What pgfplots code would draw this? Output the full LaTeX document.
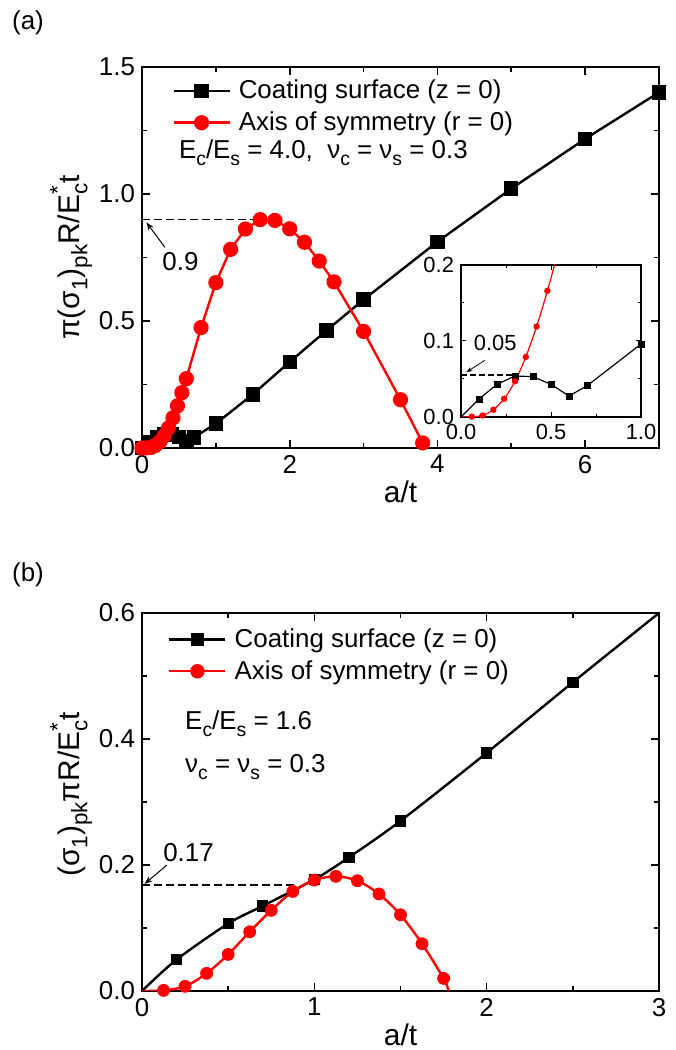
\documentclass[border=0pt]{standalone}
\usepackage{fontspec}
\setmainfont{Liberation Sans}
\usepackage{pgfplots}
\pgfplotsset{compat=1.18}
\usetikzlibrary{arrows.meta}

\definecolor{oRed}{RGB}{255,0,0}
\newcommand\tfont{\fontsize{13}{15}\selectfont}
\newcommand\sfont{\fontsize{11}{13}\selectfont}
\newcommand\lfont{\fontsize{15}{17}\selectfont}
% Origin-like low subscripts and raised superscripts
\newcommand\sub[1]{\raisebox{-0.5ex}{\scalebox{0.75}{#1}}}
\newcommand\sups[1]{\raisebox{0.9ex}{\scalebox{0.75}{#1}}}

\pgfplotsset{
  originframe/.style={
    scale only axis,
    axis line style={line width=1bp},
    tick align=inside,
    major tick length=4bp,
    minor tick length=2.5bp,
    every tick/.style={line width=0.8bp, black},
    tick label style={font=\tfont},
    /pgf/number format/assume math mode=true,
    label style={font=\lfont},
    xlabel style={at={(axis description cs:0.5,0)}, anchor=center, yshift=-22bp},
    ylabel style={at={(axis description cs:0,0.5)}, anchor=center, yshift=35.5bp},
    legend cell align=left,
    legend style={draw=none, fill=none, font=\tfont, inner sep=0pt,
      nodes={inner sep=1bp}, row sep=3bp},
    /tikz/every odd column/.append style={column sep=3bp},
    legend image code/.code={\draw[mark repeat=2,mark phase=2,##1]
      plot coordinates {(0bp,0bp)(14bp,0bp)(28bp,0bp)};},
  },
  zerofill/.style={/pgf/number format/.cd, fixed, fixed zerofill, precision=1},
}

\begin{document}
\begin{tikzpicture}
\useasboundingbox (0bp,0bp) rectangle (338bp,525bp);

\node[font=\tfont] at (14bp,513.5bp) {(a)};
\node[font=\tfont] at (14bp,237.5bp) {(b)};

% ---------- panel (a) ----------
\begin{axis}[originframe,
    at={(71bp,301bp)}, anchor=south west,
    width=258.5bp, height=190.5bp,
    xmin=0, xmax=7, ymin=0, ymax=1.5,
    xtick={0,2,4,6}, ytick={0,0.5,1,1.5},
    minor x tick num=1, minor y tick num=1,
    yticklabel style={zerofill},
    xlabel={a/t},
    ylabel={π(σ\sub{1})\sub{pk}R/E\rlap{\sups{*}}\sub{c}t},
    legend style={at={(rel axis cs:0.058,0.972)}, anchor=north west},
  ]
  \addplot[black, line width=1.2bp, mark=square*, mark size=3bp] coordinates {
    (0,0)(0.1,0.0236)(0.2,0.043)(0.3,0.054)(0.4,0.053)(0.5,0.043)(0.6,0.0276)
    (0.7,0.041)(1.0,0.096)(1.5,0.211)(2.0,0.339)(2.5,0.463)(3.0,0.584)
    (4.0,0.812)(5.0,1.021)(6.0,1.217)(7.0,1.40)};
  \addplot[oRed, line width=1.2bp, mark=*, mark size=3.2bp] coordinates {
    (0,0)(0.06,0.0005)(0.12,0.002)(0.18,0.0096)(0.24,0.024)(0.3,0.047)
    (0.36,0.079)(0.42,0.119)(0.48,0.166)(0.54,0.218)(0.6,0.273)(0.8,0.474)
    (1.0,0.651)(1.2,0.782)(1.4,0.862)(1.6,0.899)(1.8,0.896)(2.0,0.863)
    (2.2,0.81)(2.4,0.736)(2.6,0.654)(3.0,0.459)(3.5,0.19)(3.8,0.02)};
  \legend{Coating surface (z = 0), Axis of symmetry (r = 0)}
  \draw[dash pattern=on 4bp off 2bp, line width=0.8bp] (axis cs:0,0.9) -- (axis cs:1.62,0.9);
  \draw[-{Stealth[length=4bp]}, line width=0.5bp] (axis cs:0.31,0.79) -- (axis cs:0.06,0.888);
  \node[font=\tfont] at (axis cs:0.52,0.735) {0.9};
  \node[anchor=west, font=\tfont] at (rel axis cs:0.058,0.774)
    {E\sub{c}/E\sub{s} = 4.0,\ \ ν\sub{c} = ν\sub{s} = 0.3};
\end{axis}

% ---------- inset ----------
\begin{axis}[originframe,
    at={(230.5bp,316.5bp)}, anchor=south west,
    width=90bp, height=76bp,
    axis background/.style={fill=white},
    axis line style={line width=0.6bp},
    major tick length=2.5bp, minor tick length=1.5bp,
    every tick/.style={line width=0.5bp, black},
    tick label style={font=\sfont},
    xmin=0, xmax=1, ymin=0, ymax=0.2,
    xtick={0,0.5,1}, ytick={0,0.1,0.2},
    minor x tick num=1, minor y tick num=1,
    xticklabel style={zerofill}, yticklabel style={zerofill},
  ]
  \addplot[black, line width=0.6bp, forget plot] coordinates {
    (0,0)(0.1,0.0236)(0.2,0.043)(0.3,0.054)(0.4,0.053)(0.5,0.043)(0.6,0.0276)
    (0.7,0.041)(1.0,0.096)};
  \addplot[black, only marks, mark=square*, mark size=1.5bp] coordinates {
    (0.1,0.0236)(0.2,0.043)(0.3,0.054)(0.4,0.053)(0.5,0.043)(0.6,0.0276)
    (0.7,0.041)(1.0,0.096)};
  \addplot[oRed, line width=0.6bp, smooth] coordinates {
    (0,0)(0.06,0.0005)(0.12,0.002)(0.18,0.0096)(0.24,0.024)(0.3,0.047)
    (0.36,0.079)(0.42,0.119)(0.48,0.166)(0.54,0.218)(0.6,0.273)};
  \addplot[oRed, only marks, mark=*, mark size=1.4bp] coordinates {
    (0.06,0.0005)(0.12,0.002)(0.18,0.0096)(0.24,0.024)(0.3,0.047)
    (0.36,0.079)(0.42,0.119)(0.48,0.166)};
  \draw[dash pattern=on 3bp off 1.5bp, line width=0.7bp] (axis cs:0,0.055) -- (axis cs:0.3,0.055);
  \draw[-{Stealth[length=3bp]}, line width=0.4bp] (axis cs:0.133,0.0746) -- (axis cs:0.03,0.059);
  \node[font=\sfont] at (axis cs:0.19,0.097) {0.05};
\end{axis}

% ---------- panel (b) ----------
\begin{axis}[originframe,
    at={(71bp,29.5bp)}, anchor=south west,
    width=258.5bp, height=189bp,
    xmin=0, xmax=3, ymin=0, ymax=0.6,
    xtick={0,1,2,3}, ytick={0,0.2,0.4,0.6},
    minor x tick num=1, minor y tick num=1,
    yticklabel style={zerofill},
    xlabel={a/t},
    ylabel={(σ\sub{1})\sub{pk}πR/E\rlap{\sups{*}}\sub{c}t},
    ylabel style={at={(axis description cs:0,0.52)}},
    legend style={at={(rel axis cs:0.05,0.965)}, anchor=north west},
  ]
  \addplot[black, line width=1.2bp, smooth, forget plot] coordinates {
    (0,0)(0.2,0.0497)(0.5,0.107)(0.7,0.135)(1.0,0.177)(1.2,0.212)(1.5,0.27)
    (2.0,0.378)(2.5,0.49)(3.0,0.6)};
  \addplot[black, only marks, mark=square*, mark size=2.6bp, forget plot] coordinates {
    (0.2,0.0497)(0.5,0.107)(0.7,0.135)(1.0,0.177)(1.2,0.212)(1.5,0.27)
    (2.0,0.378)(2.5,0.49)};
  \addplot[oRed, line width=1.2bp, smooth, forget plot] coordinates {
    (0,0)(0.125,0.001)(0.25,0.0074)(0.375,0.028)(0.5,0.058)(0.625,0.094)
    (0.75,0.128)(0.875,0.158)(1.0,0.176)(1.125,0.182)(1.25,0.175)(1.375,0.154)
    (1.5,0.121)(1.625,0.075)(1.75,0.020)(1.78,0)};
  \addplot[oRed, only marks, mark=*, mark size=3bp, forget plot] coordinates {
    (0.125,0.001)(0.25,0.0074)(0.375,0.028)(0.5,0.058)(0.625,0.094)
    (0.75,0.128)(0.875,0.158)(1.0,0.176)(1.125,0.182)(1.25,0.175)(1.375,0.154)
    (1.5,0.121)(1.625,0.075)(1.75,0.020)};
  \addlegendimage{black, line width=1.2bp, mark=square*, mark size=2.6bp}
  \addlegendimage{oRed, line width=1.2bp, mark=*, mark size=3bp}
  \legend{Coating surface (z = 0), Axis of symmetry (r = 0)}
  \draw[dash pattern=on 4bp off 2bp, line width=0.8bp] (axis cs:0,0.168) -- (axis cs:0.9,0.168);
  \draw[-{Stealth[length=4bp]}, line width=0.5bp] (axis cs:0.145,0.2) -- (axis cs:0.015,0.17);
  \node[font=\tfont] at (axis cs:0.27,0.22) {0.17};
  \node[anchor=west, font=\tfont] at (rel axis cs:0.07,0.708)
    {E\sub{c}/E\sub{s} = 1.6};
  \node[anchor=west, font=\tfont] at (rel axis cs:0.07,0.592)
    {ν\sub{c} = ν\sub{s} = 0.3};
\end{axis}
\end{tikzpicture}
\end{document}
